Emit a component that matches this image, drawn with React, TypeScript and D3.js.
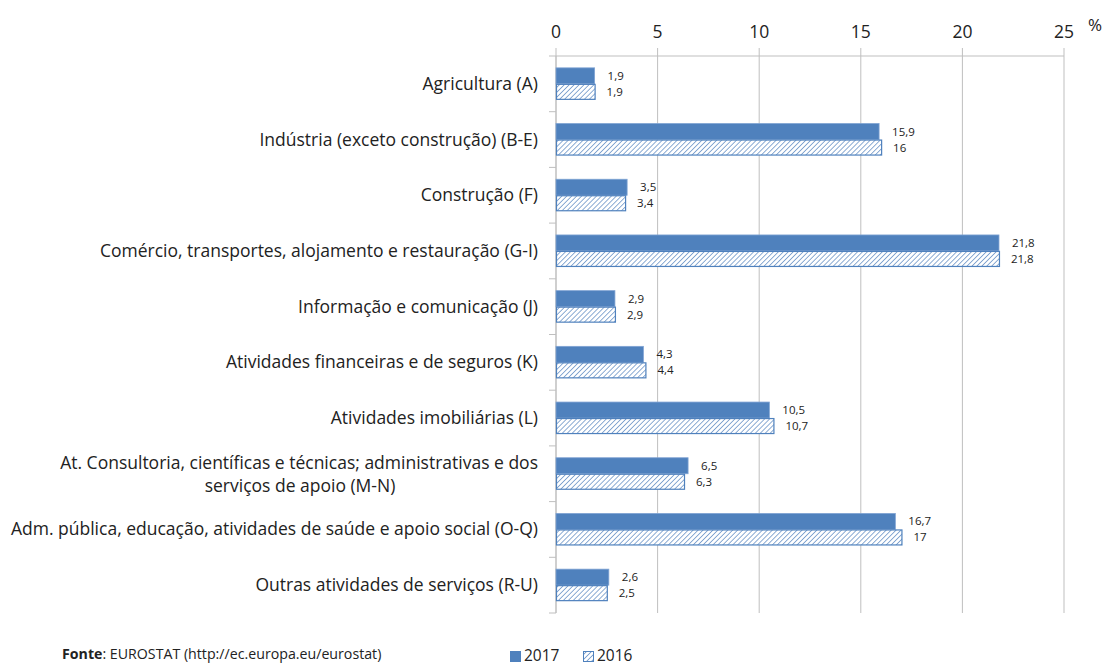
import * as d3 from "d3";

const categories = [
  ["Agricultura (A)"],
  ["Indústria (exceto construção) (B-E)"],
  ["Construção (F)"],
  ["Comércio, transportes, alojamento e restauração (G-I)"],
  ["Informação e comunicação (J)"],
  ["Atividades financeiras e de seguros (K)"],
  ["Atividades imobiliárias (L)"],
  ["At. Consultoria, científicas e técnicas; administrativas e dos", "serviços de apoio (M-N)"],
  ["Adm. pública, educação, atividades de saúde e apoio social (O-Q)"],
  ["Outras atividades de serviços (R-U)"],
];
const values2017 = [1.9, 15.9, 3.5, 21.8, 2.9, 4.3, 10.5, 6.5, 16.7, 2.6];
const values2016 = [1.9, 16, 3.4, 21.8, 2.9, 4.4, 10.7, 6.3, 17, 2.5];
const ticks = [0, 5, 10, 15, 20, 25];

const BLUE = "#4f81bd";
const GRID = "#bfbfbf";
const FONT = "'Open Sans', sans-serif";
const LABEL_SIZE = 17.5;

const fmt = (v: number) => String(v).replace(".", ",");

export default function App() {
  const x = d3.scaleLinear().domain([0, 25]).range([556, 1064]);
  const idx = categories.map((_, i) => i);
  const y = d3.scaleBand<number>().domain(idx).range([56, 613]);
  const band = y.bandwidth();
  const barH = 16;

  return (
    <svg width={1105} height={666} style={{ position: "absolute", left: 0, top: 0 }}>
      <defs>
        <pattern id="hatch" patternUnits="userSpaceOnUse" width={3.5} height={3.5} patternTransform="rotate(45)">
          <rect width={3.5} height={3.5} fill="#fff" />
          <line x1={0} y1={0} x2={0} y2={3.5} stroke={BLUE} strokeWidth={1.3} />
        </pattern>
      </defs>
      <rect width={1105} height={666} fill="#fff" />

      {/* gridlines + top axis ticks */}
      {ticks.map((t) => (
        <g key={t}>
          <line x1={x(t)} x2={x(t)} y1={48} y2={613} stroke={GRID} strokeWidth={1} />
          <text x={x(t)} y={38} textAnchor="middle" fontFamily={FONT} fontSize={17.5} fill="#222">
            {t}
          </text>
        </g>
      ))}
      <text x={1095} y={31} textAnchor="middle" fontFamily={FONT} fontSize={17} fill="#222">%</text>
      <line x1={x(0)} x2={x(25)} y1={56} y2={56} stroke={GRID} />

      {/* category axis */}
      <line x1={x(0)} x2={x(0)} y1={56} y2={613} stroke={GRID} />
      {idx.concat([idx.length]).map((i) => {
        const yy = i < idx.length ? (y(i) as number) : 613;
        return <line key={"ct" + i} x1={549} x2={x(0)} y1={yy} y2={yy} stroke={GRID} />;
      })}

      {idx.map((i) => {
        const y0 = (y(i) as number) + band / 2;
        const lines = categories[i];
        return (
          <g key={i}>
            <rect x={x(0)} y={y0 - barH} width={x(values2017[i]) - x(0)} height={barH}
              fill={BLUE} stroke="#7fa3d3" strokeWidth={0.8} />
            <rect x={x(0) + 0.5} y={y0 + 0.5} width={x(values2016[i]) - x(0)} height={barH - 1}
              fill="url(#hatch)" stroke={BLUE} strokeWidth={1.2} />
            <text x={x(values2017[i]) + 13} y={y0 - 4} fontFamily={FONT} fontSize={11.5} fill="#222">
              {fmt(values2017[i])}
            </text>
            <text x={x(values2016[i]) + 12} y={y0 + 12} fontFamily={FONT} fontSize={11.5} fill="#222">
              {fmt(values2016[i])}
            </text>
            {lines.length === 1 ? (
              <text x={538} y={y0 + 6} textAnchor="end" fontFamily={FONT} fontSize={LABEL_SIZE} fill="#222">
                {lines[0]}
              </text>
            ) : (
              <>
                <text x={538} y={y0 - 5} textAnchor="end" fontFamily={FONT} fontSize={LABEL_SIZE} fill="#222">
                  {lines[0]}
                </text>
                <text x={300} y={y0 + 18} textAnchor="middle" fontFamily={FONT} fontSize={LABEL_SIZE} fill="#222">
                  {lines[1]}
                </text>
              </>
            )}
          </g>
        );
      })}

      {/* source */}
      <text x={62} y={659} fontFamily={FONT} fontSize={14.2} fill="#222">
        <tspan fontWeight="bold">Fonte</tspan>: EUROSTAT (http://ec.europa.eu/eurostat)
      </text>

      {/* legend */}
      <rect x={510} y={651} width={11} height={11} fill={BLUE} />
      <text x={524} y={661} fontFamily={FONT} fontSize={15.5} fill="#222">2017</text>
      <rect x={583.5} y={651.5} width={10} height={10} fill="url(#hatch)" stroke={BLUE} />
      <text x={597} y={661} fontFamily={FONT} fontSize={15.5} fill="#222">2016</text>
    </svg>
  );
}
